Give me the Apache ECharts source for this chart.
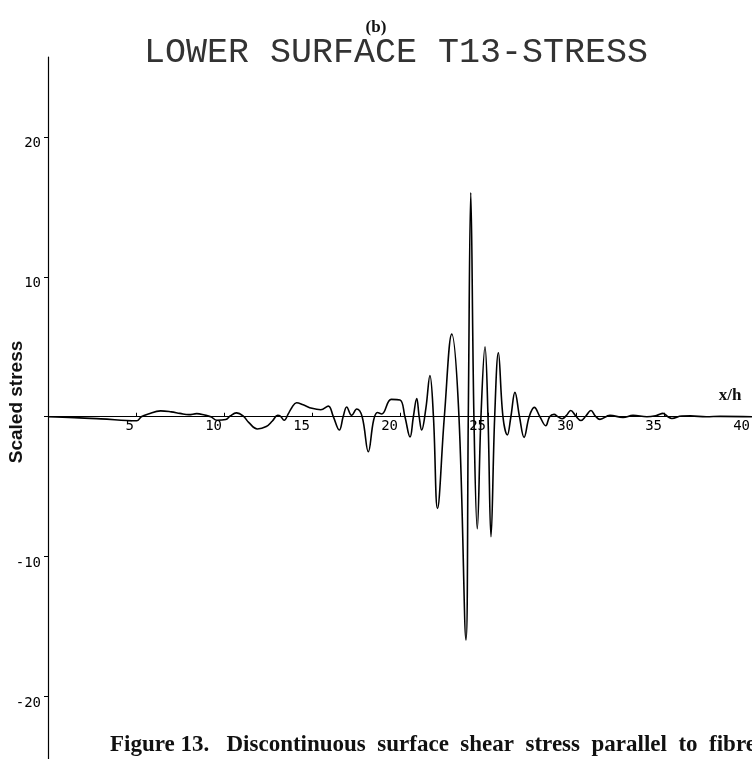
<!DOCTYPE html>
<html>
<head>
<meta charset="utf-8">
<script src="https://cdn.jsdelivr.net/npm/echarts@6/dist/echarts.min.js"></script>
<style>
html,body{margin:0;padding:0;background:#fff;}
#chart{width:752px;height:759px;}
</style>
</head>
<body>
<div id="chart"></div>
<script>
// x/h positions and scaled stress values
var xValues = [0, 1.5, 3.0, 5.04, 5.3, 5.7, 6.4, 7.0, 7.5, 8.0, 8.45, 8.9, 9.25, 9.6, 10.1, 10.35, 10.7, 11.1, 11.4, 11.9,
  12.4, 12.75, 13.05, 13.2, 13.42, 13.65, 13.85, 14.12, 14.5, 15.0, 15.5, 15.93, 16.2, 16.55, 16.78, 16.97, 17.25, 17.54,
  17.85, 18.2, 18.5, 18.72, 18.96, 19.5, 20.0, 20.28, 20.57, 20.76, 20.95, 21.09, 21.23, 21.47, 21.7, 21.9, 22.13, 22.52,
  22.94, 23.35, 23.75, 23.88, 24.02, 24.2, 24.39, 24.6, 24.83, 25.0, 25.17, 25.38, 25.59, 25.85, 26.1, 26.3, 26.53, 26.79,
  27.05, 27.34, 27.63, 27.95, 28.28, 28.5, 28.75, 28.98, 29.22, 29.46, 29.7, 29.99, 30.28, 30.56, 30.85, 31.1, 31.36,
  31.93, 32.67, 33.24, 34.03, 34.6, 34.94, 35.2, 35.45, 36.0, 36.5, 37.4, 38.2, 40];
var stressValues = [0, -0.06, -0.15, -0.29, 0, 0.2, 0.42, 0.35, 0.24, 0.15, 0.22, 0.12, 0, -0.25, -0.2, 0.05, 0.28, 0.05, -0.4, -0.87,
  -0.7, -0.3, 0.1, 0.05, -0.25, 0.2, 0.65, 1.0, 0.85, 0.6, 0.5, 0.76, 0.05, -0.95, 0.05, 0.7, 0.1, 0.55,
  0, -2.5, -0.25, 0.3, 0.2, 1.24, 1.2, 0, -1.45, 0, 1.3, 0, -0.95, 0.6, 2.95, 0, -6.55, 0,
  5.9, 0, -15.95, 0, 16.0, 0, -8.0, 0, 5.0, 0, -8.57, 0, 4.57, 0, -1.3, 0, 1.74, 0,
  -1.47, 0, 0.67, 0, -0.64, 0, 0.17, 0, -0.14, 0.1, 0.45, 0.05, -0.27, 0.05, 0.45, 0.05, -0.19,
  0.1, -0.05, 0.1, 0, 0.1, 0.24, 0.02, -0.12, 0.05, 0.06, 0, 0.03, 0];
var xTickValues = [5, 10, 15, 20, 25, 30, 35, 40];
var yTickValues = [-20, -10, 0, 10, 20];
var yLabelValues = [-20, -10, 10, 20];
var yMin = -24.45, yMax = 25.7;

var seriesData = xValues.map(function (x, i) { return [x, stressValues[i]]; });

var chartH = 759, gridTop = 57, gridBottom = 0;
var plotH = chartH - gridTop - gridBottom;
// distance from the grid's bottom edge up to the y = 0 line, so the x axis sits on zero
var zeroOffset = -(plotH * (0 - yMin) / (yMax - yMin));

var chart = echarts.init(document.getElementById('chart'), null, {renderer: 'canvas'});
var monoFont = '"DejaVu Sans Mono", monospace';
chart.setOption({
  animation: false,
  backgroundColor: '#fff',
  grid: {left: 48, right: 0, top: gridTop, bottom: gridBottom, containLabel: false, outerBoundsMode: 'none'},
  xAxis: {
    type: 'value', min: 0, max: 40, position: 'bottom', offset: zeroOffset,
    axisLine: {onZero: false, lineStyle: {color: '#000', width: 1.2}},
    axisTick: {show: true, inside: true, length: 4, customValues: xTickValues, lineStyle: {color: '#000'}},
    axisLabel: {customValues: xTickValues, align: 'right', padding: [0, 2, 0, 0], margin: 3,
      fontFamily: monoFont, fontSize: 14, color: '#000'},
    splitLine: {show: false}
  },
  yAxis: {
    type: 'value', min: yMin, max: yMax,
    axisLine: {show: true, onZero: false, lineStyle: {color: '#000', width: 1.2}},
    axisTick: {show: true, inside: false, length: 4, customValues: yTickValues, lineStyle: {color: '#000'}},
    axisLabel: {customValues: yLabelValues, verticalAlign: 'top', margin: 7,
      fontFamily: monoFont, fontSize: 14, color: '#000'},
    splitLine: {show: false}
  },
  series: [{
    type: 'line', data: seriesData, showSymbol: false, smooth: 0.4,
    lineStyle: {color: '#000', width: 1.6}
  }],
  graphic: [
    {type: 'text', left: 'center', top: 19, style: {text: '(b)', font: 'bold 17px "Liberation Serif"', fill: '#111'}},
    {type: 'text', x: 396, y: 53, style: {text: 'LOWER SURFACE T13-STRESS', font: '35px "Liberation Mono"', fill: '#333', align: 'center', verticalAlign: 'middle'}},
    {type: 'text', x: 730, y: 396, style: {text: 'x/h', font: 'bold 17px "Liberation Serif"', fill: '#111', align: 'center', verticalAlign: 'middle'}},
    {type: 'text', x: 17, y: 402, rotation: Math.PI / 2, style: {text: 'Scaled stress', font: 'bold 19px "Liberation Sans"', fill: '#111', align: 'center', verticalAlign: 'middle'}},
    {type: 'text', x: 110, y: 745, style: {text: 'Figure 13.   Discontinuous  surface  shear  stress  parallel  to  fibres', font: 'bold 23px "Liberation Serif"', fill: '#111', align: 'left', verticalAlign: 'middle'}}
  ]
});
</script>
</body>
</html>
